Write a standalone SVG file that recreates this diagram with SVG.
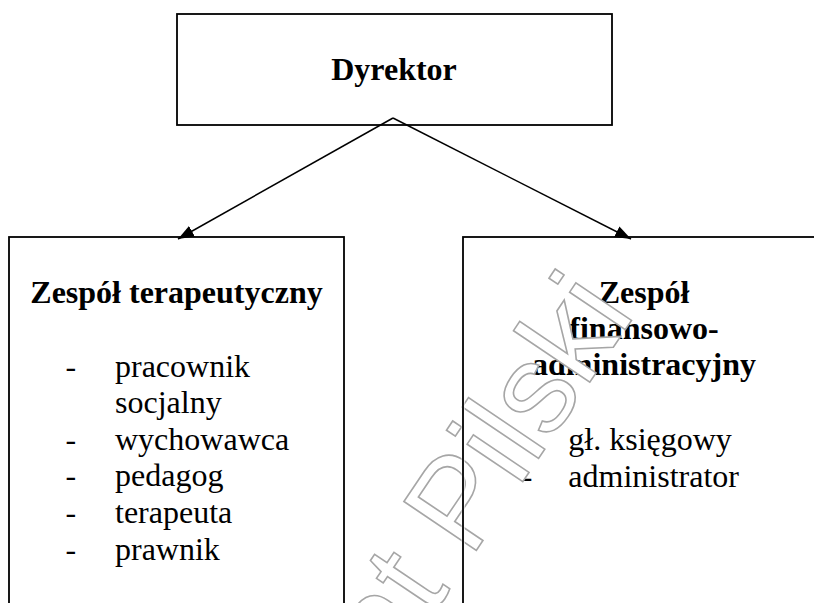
<svg xmlns="http://www.w3.org/2000/svg" width="814" height="603" viewBox="0 0 814 603">
  <style>
    .box { fill: none; stroke: #000; stroke-width: 1.8; }
    .tx { font-size: 32px; fill: #000; }
    .b { font-weight: bold; }
    .conn { stroke: #000; stroke-width: 1.5; fill: none; }
    .wm { font-size: 127px; fill: #fff; stroke: #a6a6a6; stroke-width: 1.6; }
  </style>
  <defs>
    <marker id="arrow" markerUnits="userSpaceOnUse" markerWidth="17" markerHeight="13" refX="16" refY="6" orient="auto">
      <path d="M0,0 L16,6 L0,12 z" fill="#000"/>
    </marker>
    <clipPath id="wmclip" clipPathUnits="userSpaceOnUse">
      <rect x="0" y="0" width="461.6" height="603"/>
      <rect x="464.6" y="0" width="360" height="603"/>
    </clipPath>
  </defs>
  <rect width="814" height="603" fill="#fff"/>

  <g id="node-dyrektor" font-family="Liberation Serif, serif">
    <rect class="box" x="177" y="14" width="435" height="111"/>
    <text class="tx b" x="394" y="80" text-anchor="middle">Dyrektor</text>
  </g>

  <g id="node-terapeutyczny" font-family="Liberation Serif, serif">
    <rect class="box" x="9" y="237" width="335" height="420"/>
    <text class="tx b" x="176.5" y="303" text-anchor="middle">Zespół terapeutyczny</text>
    <text class="tx" x="65.4" y="376.5">-</text>
    <text class="tx" x="115" y="376.5">pracownik</text>
    <text class="tx" x="115" y="413">socjalny</text>
    <text class="tx" x="65.4" y="449.5">-</text>
    <text class="tx" x="115" y="449.5">wychowawca</text>
    <text class="tx" x="65.4" y="486">-</text>
    <text class="tx" x="115" y="486">pedagog</text>
    <text class="tx" x="65.4" y="523">-</text>
    <text class="tx" x="115" y="523">terapeuta</text>
    <text class="tx" x="65.4" y="560">-</text>
    <text class="tx" x="115" y="560">prawnik</text>
  </g>

  <g id="node-finansowy" font-family="Liberation Serif, serif">
    <rect class="box" x="463" y="237" width="400" height="420"/>
    <text class="tx b" x="644" y="302.7" text-anchor="middle">Zespół</text>
    <text class="tx b" x="644" y="338.7" text-anchor="middle">finansowo-</text>
    <text class="tx b" x="644" y="375" text-anchor="middle">administracyjny</text>
    <text class="tx" x="521.7" y="450">-</text>
    <text class="tx" x="568.3" y="450">gł. księgowy</text>
    <text class="tx" x="521.7" y="486.7">-</text>
    <text class="tx" x="568.3" y="486.7">administrator</text>
  </g>

  <g id="connectors">
    <line class="conn" x1="393" y1="118" x2="178" y2="239" marker-end="url(#arrow)"/>
    <line class="conn" x1="393" y1="118" x2="631" y2="239" marker-end="url(#arrow)"/>
  </g>

  <g id="watermark" clip-path="url(#wmclip)" font-family="Liberation Sans, sans-serif">
    <text class="wm" transform="translate(470.3 559.4) rotate(-56)" x="-416" y="0">Powiat Pilski</text>
  </g>
</svg>
